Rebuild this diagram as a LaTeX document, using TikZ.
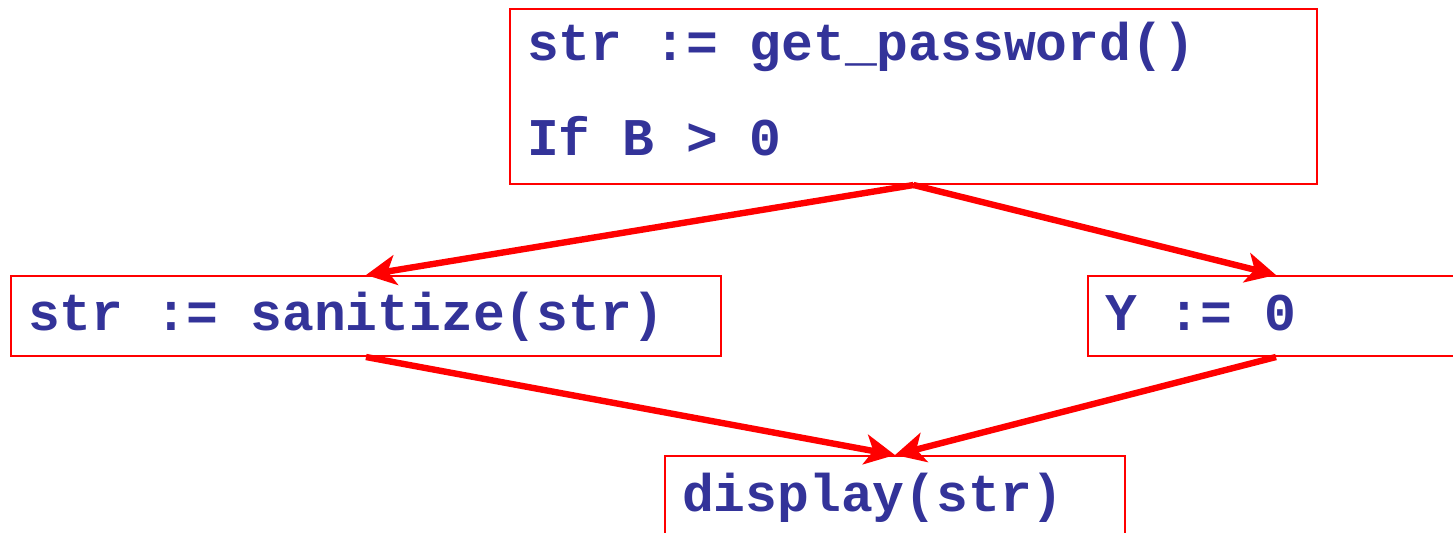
\documentclass[tikz,border=0pt]{standalone}
\usepackage{fontspec}
\setmonofont{Liberation Mono}
\usepackage{tikz}
\usetikzlibrary{scopes,positioning,arrows.meta}
\definecolor{codeblue}{RGB}{51,51,153}
\protected\def\codespacing{\spaceskip=0.6em\relax\xspaceskip=0.6em\relax}

\begin{document}
\begin{tikzpicture}[
    x=0.5pt,y=-0.5pt,
    block/.style={rectangle,draw=red,line width=1pt,anchor=north west,
        inner xsep=8.5pt,inner ysep=0pt,align=left,text=codeblue,
        font=\ttfamily\bfseries\fontsize{26.5}{47.5}\selectfont,
        execute at begin node=\codespacing,
        text height=20pt,text depth=6pt},
    flow/.style={draw=red,line width=3.2pt,-{Stealth[length=15pt,width=15pt,inset=4pt]}},
]

    \useasboundingbox (0,0) rectangle (1453,532);
    \clip (0,0) rectangle (1453,532);

    % Blocks of the flow graph
    \node[block,text width=386.5pt,minimum height=87.5pt,
          text height=17pt,text depth=53pt] (pw) at (509,8)
        {str := get\_password()\\If B > 0};
    \node[block,text width=338pt,minimum height=40pt] (san) at (10,275) {str := sanitize(str)};
    \node[block,text width=171pt,minimum height=40pt] (yset) at (1087,275) {Y := 0};
    \node[block,text width=213pt,minimum height=41pt] (disp) at (664,455) {display(str)};

    % Edges
    {[flow]
        \draw (pw.south) -- (san.north);
        \draw (pw.south) -- (yset.north);
        \draw (san.south) -- (disp.north);
        \draw (yset.south) -- (disp.north);
    }

\end{tikzpicture}
\end{document}
